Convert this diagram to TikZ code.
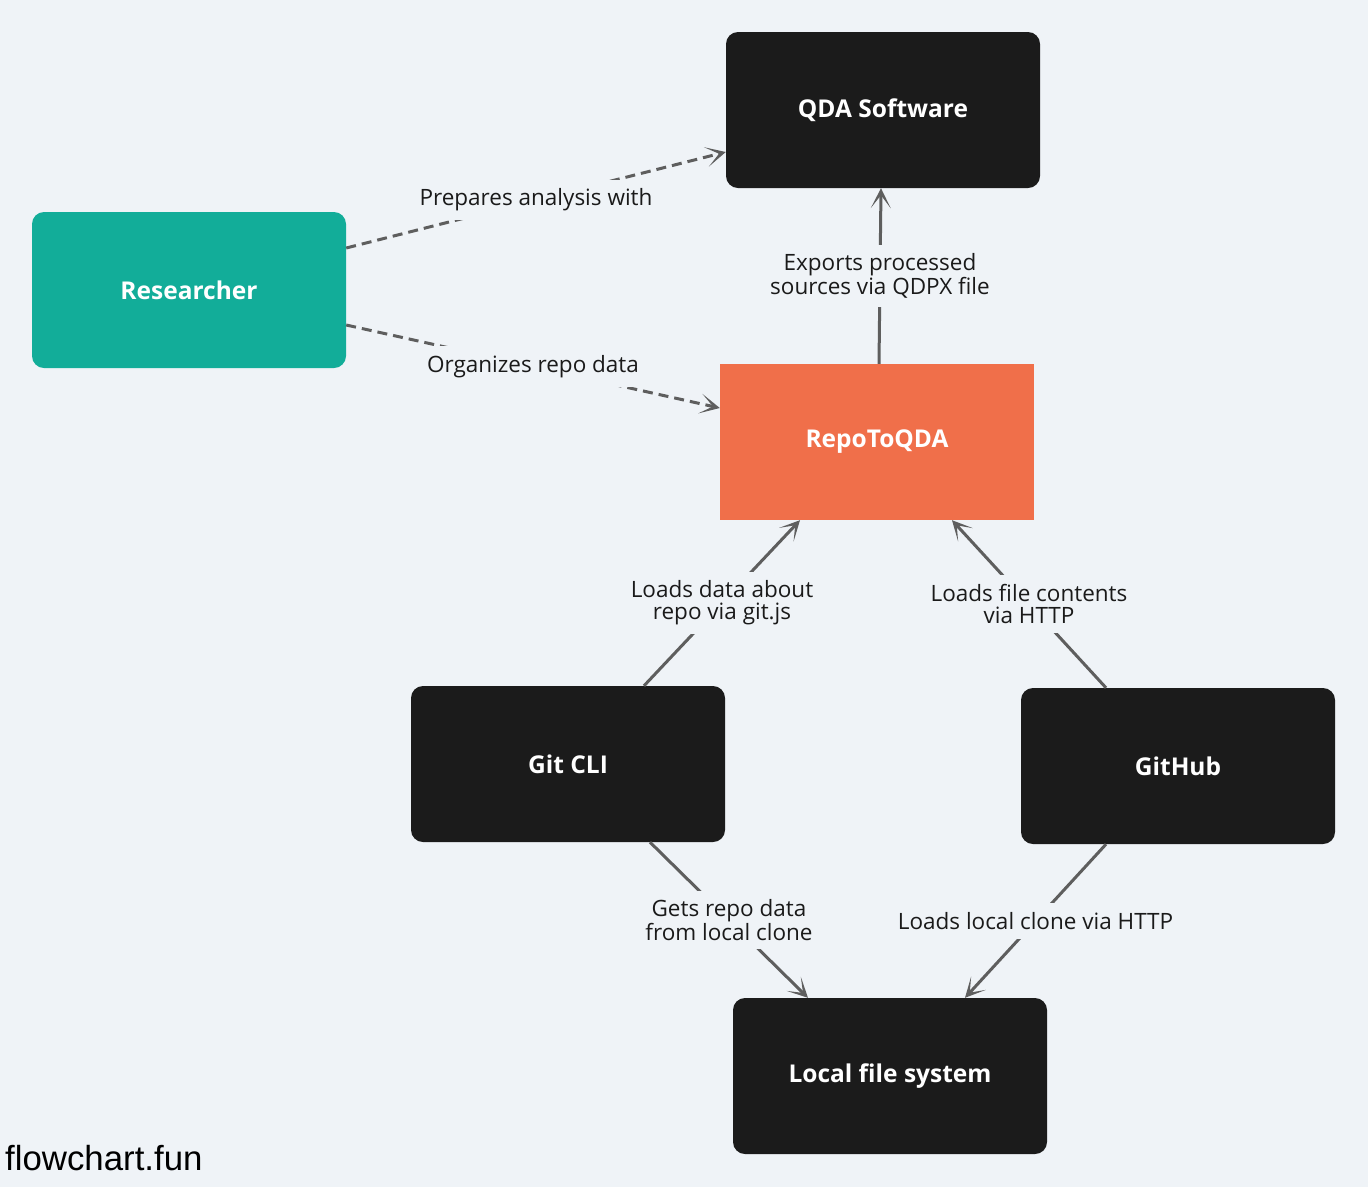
\documentclass[tikz,border=0pt]{standalone}
\usepackage{fontspec}
\setmainfont{Open Sans}
\newfontfamily\arialfont{Liberation Sans}
\usetikzlibrary{arrows.meta}
\definecolor{bgc}{HTML}{EFF3F7}
\definecolor{boxdark}{HTML}{1B1B1B}
\definecolor{teal}{HTML}{12AD99}
\definecolor{orangebox}{HTML}{F06F4A}
\definecolor{edgec}{HTML}{5E5E5E}
\definecolor{textc}{HTML}{1A1A1A}
\tikzset{
  box/.style={minimum width=314pt, minimum height=156pt, inner sep=0pt,
    text=white, font=\fontsize{24.5}{28}\selectfont\bfseries},
  darkbox/.style={box, fill=boxdark, rounded corners=12pt},
  tipstyle/.tip={Stealth[length=20pt, width=20pt, inset=13pt, line width=0pt]},
  edge/.style={draw=edgec, line width=3pt, -tipstyle},
  dashedge/.style={edge, dash pattern=on 10pt off 6pt},
  lbl/.style={fill=bgc, text=textc, align=center, inner xsep=4pt, inner ysep=9pt,
    font=\fontsize{22.5}{22}\selectfont}
}
\begin{document}
\begin{tikzpicture}[x=1pt, y=-1pt]
\fill[bgc] (0,0) rectangle (1368,1187);
\useasboundingbox (0,0) rectangle (1368,1187);

\node[darkbox] (qda) at (883,110) {QDA Software};
\node[box, fill=teal, rounded corners=12pt] (res) at (189,290) {Researcher};
\node[box, fill=orangebox] (repo) at (877,442) {RepoToQDA};
\node[darkbox] (git) at (568,764) {Git CLI};
\node[darkbox] (gh) at (1178,766) {GitHub};
\node[darkbox] (lfs) at (890,1076) {Local file system};

\draw[dashedge] ([yshift=42pt]res.east) -- node[lbl]{Prepares analysis with} ([yshift=-42pt]qda.west);
\draw[dashedge] ([yshift=-35pt]res.east) -- node[lbl]{Organizes repo data} ([yshift=34pt]repo.west);
\draw[edge] ([xshift=2pt]repo.north) -- node[lbl]{Exports processed\\sources via QDPX file} ([xshift=-2pt]qda.south);
\draw[edge] ([xshift=76pt]git.north) -- node[lbl]{Loads data about\\repo via git.js} ([xshift=-77pt]repo.south);
\draw[edge] ([xshift=-72pt]gh.north) -- node[lbl]{Loads file contents\\via HTTP} ([xshift=75pt]repo.south);
\draw[edge] ([xshift=82pt]git.south) -- node[lbl]{Gets repo data\\from local clone} ([xshift=-82pt]lfs.north);
\draw[edge] ([xshift=-72pt]gh.south) -- node[lbl]{Loads local clone via HTTP} ([xshift=75pt]lfs.north);

\node[anchor=base west, inner sep=0pt, text=black, font=\arialfont\fontsize{34.8}{38}\selectfont] (brand) at (5,1170) {flowchart.fun};
\end{tikzpicture}
\end{document}
